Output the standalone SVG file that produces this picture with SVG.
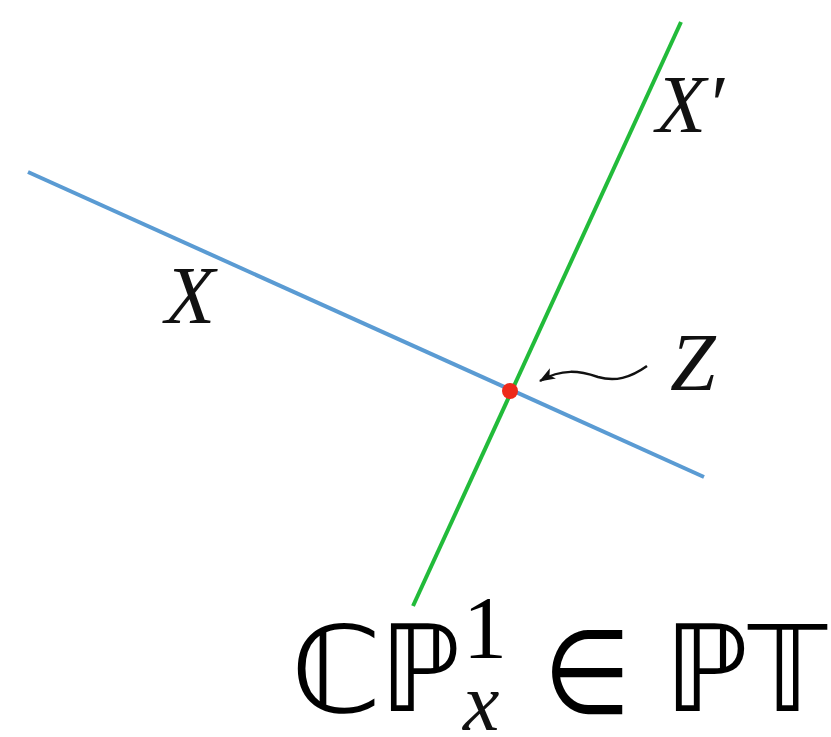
<svg xmlns="http://www.w3.org/2000/svg" width="831" height="737" viewBox="0 0 831 737">
<style>
.lbl{font-family:"Liberation Serif","DejaVu Serif",serif;font-style:italic;fill:#111}
.num{font-family:"Liberation Serif","DejaVu Serif",serif;fill:#000}
.ds{font-family:"DejaVu Sans","Noto Sans",sans-serif;fill:#000}
</style>
<defs>
<marker id="ah" markerWidth="16" markerHeight="12" refX="15" refY="6" orient="auto" markerUnits="userSpaceOnUse">
<path d="M0,0 L16,6 L0,12 L4,6 Z" fill="#111"/>
</marker>
</defs>
<rect width="831" height="737" fill="#fff"/>
<g id="lines">
<line id="lineX" x1="28" y1="172" x2="704" y2="477" stroke="#5a9bd3" stroke-width="4"/>
<line id="lineXp" x1="681" y1="22" x2="413" y2="606" stroke="#22bb3a" stroke-width="4"/>
</g>
<g id="connectors">
<path d="M647,366 C630,378 615,382 598,377 C580,371 562,368 540,381" fill="none" stroke="#111" stroke-width="2.5" marker-end="url(#ah)"/>
</g>
<g id="pointZ"><circle cx="510" cy="391" r="8" fill="#ee2a1a"/></g>
<g id="labels">
<text class="lbl" x="165" y="323" font-size="82">X</text>
<text class="lbl" x="656" y="132" font-size="82">X′</text>
<text class="lbl" x="670" y="390" font-size="82">Z</text>
</g>
<g id="formula">
<text class="ds" transform="translate(290.5,712) scale(1.086,1)" font-size="120">ℂ</text>
<text class="ds" transform="translate(379.6,711) scale(0.96,1)" font-size="120">ℙ</text>
<text class="num" x="463" y="657" font-size="88">1</text>
<text class="lbl" x="463" y="730" font-size="82">x</text>
<text class="ds" transform="translate(543.6,713) scale(0.857,1)" font-size="117">∈</text>
<text class="ds" transform="translate(664,711) scale(1,1)" font-size="120">ℙ</text>
<text class="ds" transform="translate(748,711) scale(0.93,1)" font-size="120">𝕋</text>
</g>
</svg>
